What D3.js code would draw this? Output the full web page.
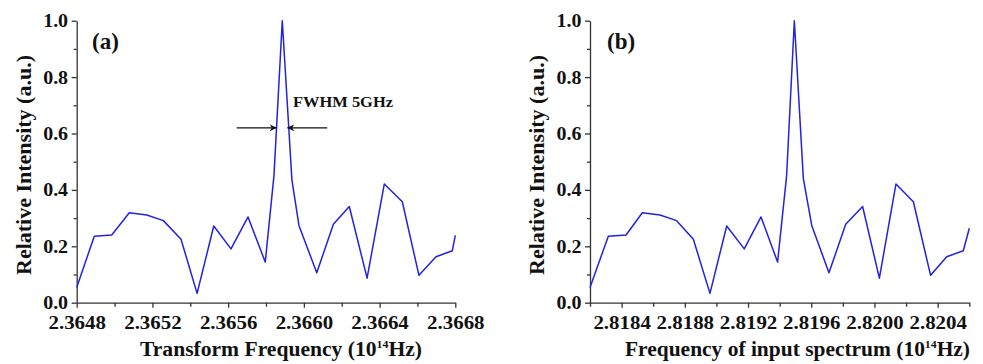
<!DOCTYPE html>
<html>
<head>
<meta charset="utf-8">
<script src="https://cdn.jsdelivr.net/npm/d3@7"></script>
<style>
  body { margin: 0; background: #fff; }
</style>
</head>
<body>
<div id="chart"></div>
<script>
// valores (a) e (b)
var freqA = [2.364800, 2.364893, 2.364985, 2.365078, 2.365170, 2.365258, 2.365351, 2.365436,
  2.365524, 2.365615, 2.365705, 2.365796, 2.365842, 2.365886, 2.365937, 2.365974, 2.366068,
  2.366156, 2.366240, 2.366334, 2.366425, 2.366520, 2.366608, 2.366698, 2.366784, 2.366800];
var freqB = [2.818200, 2.818316, 2.818428, 2.818531, 2.818643, 2.818748, 2.818854, 2.818959,
  2.819065, 2.819176, 2.819282, 2.819387, 2.819444, 2.819493, 2.819550, 2.819603, 2.819712,
  2.819818, 2.819925, 2.820031, 2.820136, 2.820246, 2.820355, 2.820457, 2.820562, 2.820600];
var intensA = [0.054, 0.236, 0.240, 0.319, 0.311, 0.291, 0.225, 0.033, 0.272, 0.191, 0.304,
  0.144, 0.450, 1.000, 0.435, 0.274, 0.106, 0.278, 0.341, 0.087, 0.421, 0.358, 0.097, 0.163,
  0.184, 0.239];
var intensB = [0.054, 0.236, 0.240, 0.319, 0.311, 0.291, 0.225, 0.033, 0.272, 0.191, 0.304,
  0.144, 0.450, 1.000, 0.440, 0.274, 0.106, 0.278, 0.341, 0.087, 0.421, 0.358, 0.097, 0.163,
  0.184, 0.264];

var ticksA = [2.3648, 2.3652, 2.3656, 2.3660, 2.3664, 2.3668];
var minorA = [2.3650, 2.3654, 2.3658, 2.3662, 2.3666];
var ticksB = [2.8184, 2.8188, 2.8192, 2.8196, 2.8200, 2.8204];
var minorB = [2.8182, 2.8186, 2.8190, 2.8194, 2.8198, 2.8202, 2.8206];
var ticksY = [0, 0.2, 0.4, 0.6, 0.8, 1.0];
var minorY = [0.1, 0.3, 0.5, 0.7, 0.9];

// setas do FWHM (pontas em frequência, altura em intensidade)
var fwhmTips = [2.3658565, 2.3659123];
var fwhmLevel = 0.62;

var FONTE = "'Liberation Serif', 'Times New Roman', serif";
var W = 983, H = 364;
var svg = d3.select("#chart").append("svg")
  .attr("width", W).attr("height", H);

svg.append("defs").append("marker")
  .attr("id", "seta")
  .attr("viewBox", "0 0 10 10")
  .attr("refX", 10).attr("refY", 5)
  .attr("markerWidth", 7).attr("markerHeight", 7)
  .attr("markerUnits", "userSpaceOnUse")
  .attr("orient", "auto")
  .append("path")
  .attr("d", "M0,0 L10,5 L0,10 L3,5 Z")
  .attr("fill", "#111");

function painel(cfg) {
  var x = d3.scaleLinear().domain(cfg.dom).range([cfg.left, cfg.right]);
  var y = d3.scaleLinear().domain([0, 1]).range([302.7, 20.7]);
  var g = svg.append("g");

  // minor ticks
  g.append("g")
    .attr("transform", "translate(0,302.7)")
    .call(d3.axisBottom(x).tickValues(cfg.minor).tickSize(4).tickFormat(""))
    .call(a => a.select(".domain").remove());
  g.append("g")
    .attr("transform", "translate(" + cfg.left + ",0)")
    .call(d3.axisLeft(y).tickValues(minorY).tickSize(3).tickFormat(""))
    .call(a => a.select(".domain").remove());

  // eixo X
  var ax = g.append("g")
    .attr("transform", "translate(0,302.7)")
    .call(d3.axisBottom(x).tickValues(cfg.major).tickSize(5).tickSizeOuter(0)
      .tickFormat(d3.format(".4f")));
  ax.selectAll("text")
    .attr("y", 13)
    .attr("dy", "0.71em")
    .style("font-size", "19px")
    .attr("transform", "scale(1.1,1)");

  // eixo Y
  var ay = g.append("g")
    .attr("transform", "translate(" + cfg.left + ",0)")
    .call(d3.axisLeft(y).tickValues(ticksY).tickSize(5).tickSizeOuter(0)
      .tickFormat(d3.format(".1f")));
  ay.selectAll("text")
    .attr("x", -8.2)
    .style("font-size", "19px")
    .attr("transform", "scale(1.05,1)");

  g.selectAll(".domain, .tick line").attr("stroke", "#333").attr("stroke-width", 1.3);

  // curva
  var pts = cfg.freq.map((f, i) => [f, cfg.val[i]]);
  g.append("path")
    .datum(pts)
    .attr("fill", "none")
    .attr("stroke", "#2222e0")
    .attr("stroke-width", 1.5)
    .attr("stroke-linejoin", "round")
    .attr("d", d3.line().x(d => x(d[0])).y(d => y(d[1])));

  // rótulo do painel
  g.append("text")
    .attr("x", cfg.tagX).attr("y", 49)
    .style("font-size", "23px")
    .text(cfg.tag);

  // título do eixo Y
  g.append("text")
    .attr("transform", "translate(" + cfg.ytX + ",165) rotate(-90)")
    .attr("text-anchor", "middle")
    .attr("textLength", 220)
    .attr("lengthAdjust", "spacingAndGlyphs")
    .style("font-size", "20px")
    .text("Relative Intensity (a.u.)");

  // título do eixo X
  var xt = g.append("text")
    .attr("x", cfg.xtX).attr("y", 356)
    .attr("textLength", cfg.xtLen)
    .attr("lengthAdjust", "spacingAndGlyphs")
    .style("font-size", "20px");
  xt.append("tspan").text(cfg.xtitle + " (10");
  xt.append("tspan").attr("dy", -8).style("font-size", "11px").text("14");
  xt.append("tspan").attr("dy", 8).text("Hz)");

  return { x: x, y: y, g: g };
}

var pa = painel({
  dom: [2.3648, 2.3668], left: 76.7, right: 455.3,
  major: ticksA, minor: minorA, freq: freqA, val: intensA,
  tag: "(a)", tagX: 92, ytX: 31, xtX: 140, xtLen: 282,
  xtitle: "Transform Frequency"
});

var pb = painel({
  dom: [2.8182, 2.8206], left: 590, right: 969.3,
  major: ticksB, minor: minorB, freq: freqB, val: intensB,
  tag: "(b)", tagX: 607, ytX: 544, xtX: 625, xtLen: 345,
  xtitle: "Frequency of input spectrum"
});

// anotação FWHM
var yF = pa.y(fwhmLevel);
pa.g.append("line")
  .attr("x1", pa.x(fwhmTips[0]) - 40).attr("x2", pa.x(fwhmTips[0]))
  .attr("y1", yF).attr("y2", yF)
  .attr("stroke", "#111").attr("stroke-width", 1.4)
  .attr("marker-end", "url(#seta)");
pa.g.append("line")
  .attr("x1", pa.x(fwhmTips[1]) + 40).attr("x2", pa.x(fwhmTips[1]))
  .attr("y1", yF).attr("y2", yF)
  .attr("stroke", "#111").attr("stroke-width", 1.4)
  .attr("marker-end", "url(#seta)");
pa.g.append("text")
  .attr("x", 293).attr("y", 106.5)
  .attr("textLength", 100)
  .attr("lengthAdjust", "spacingAndGlyphs")
  .style("font-size", "14px")
  .text("FWHM 5GHz");

// fonte serifada em negrito para todos os textos
svg.selectAll("g").attr("font-family", null);
svg.selectAll("text")
  .style("font-family", FONTE)
  .style("font-weight", "bold")
  .attr("fill", "#111");
</script>
</body>
</html>
